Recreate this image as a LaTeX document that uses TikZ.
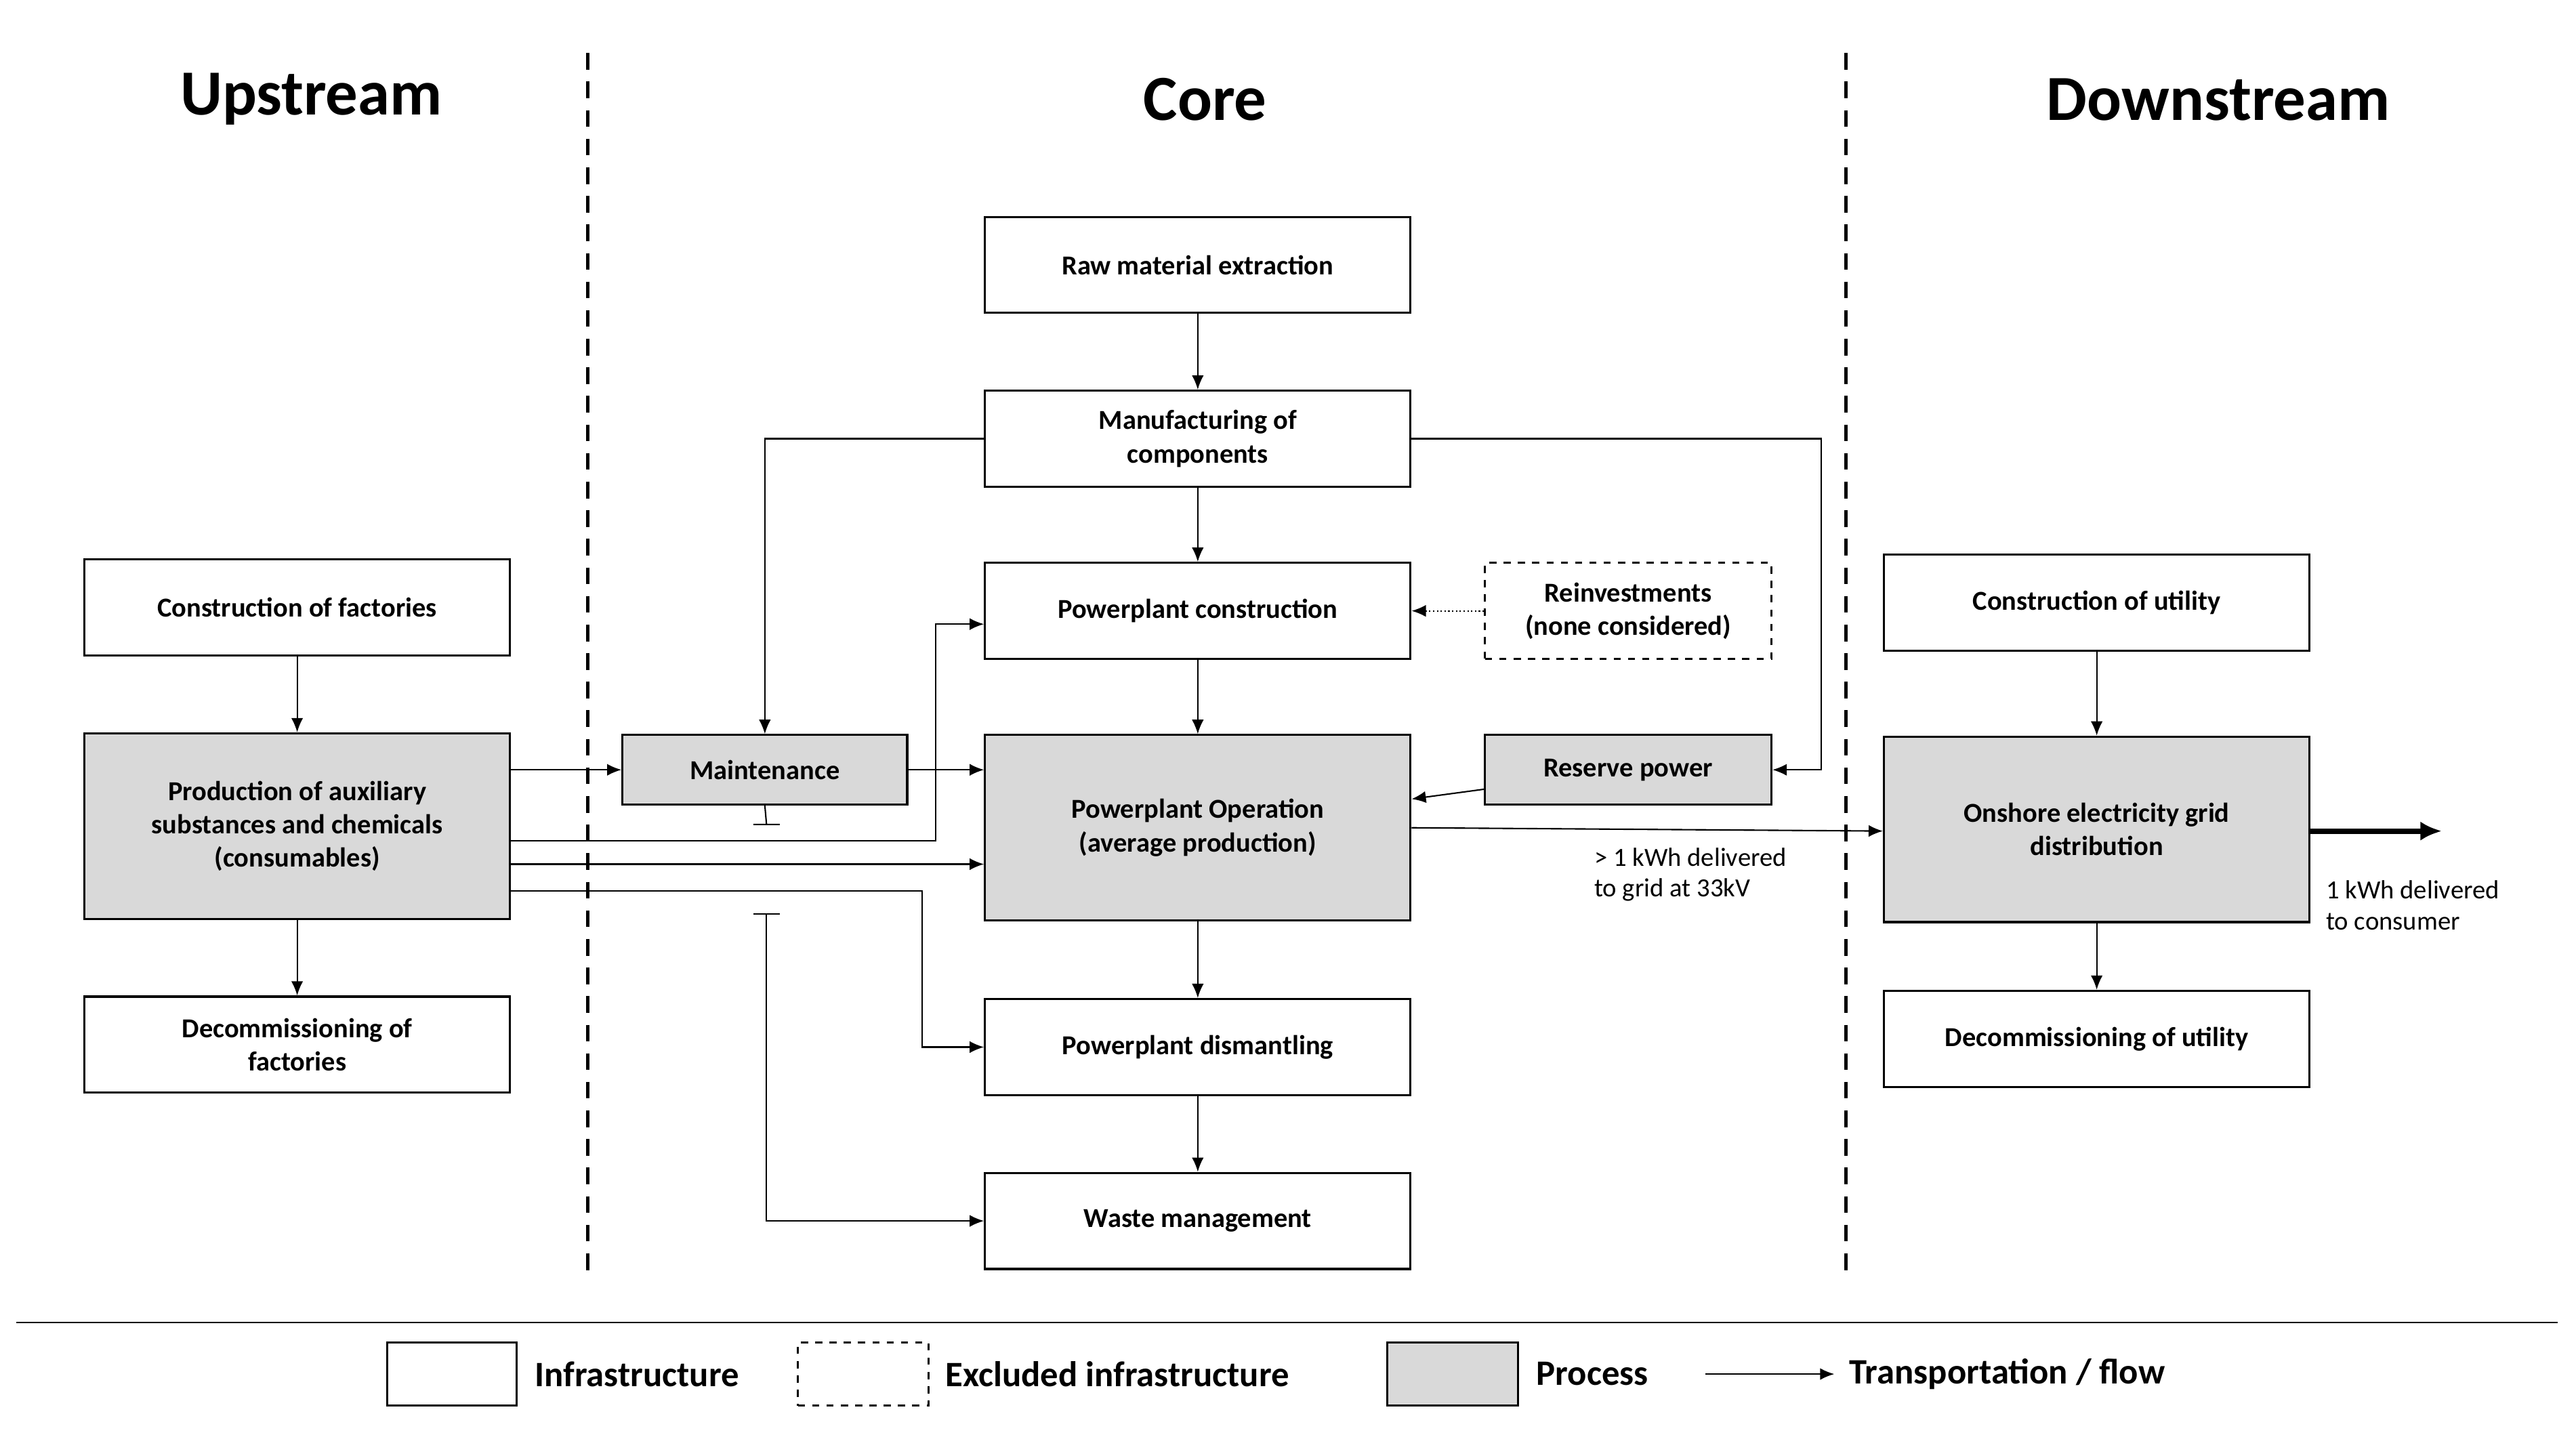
\documentclass[tikz,border=0pt]{standalone}
\usepackage{fontspec}
\setmainfont{Carlito}
\usetikzlibrary{arrows.meta}
\begin{document}
\begin{tikzpicture}[x=0.02443cm,y=-0.02443cm,
  box/.style={draw,line width=0.9pt,minimum width=257*0.02443cm,minimum height=58*0.02443cm,font=\bfseries\fontsize{11.5}{14}\selectfont,align=center,inner sep=2pt},
  proc/.style={box,fill=gray!30},
  ln/.style={line width=0.6pt},
  ar/.style={ln,-{Latex[length=6pt,width=5pt]}},
  ttl/.style={font=\bfseries\fontsize{27}{30}\selectfont},
  lab/.style={font=\fontsize{11}{13}\selectfont,align=left,anchor=north west}]
\useasboundingbox (0,0) rectangle (1556,868);
\node[ttl] at (188,60) {Upstream};
\node[ttl] at (728,60) {Core};
\node[ttl] at (1340,60) {Downstream};
\draw[line width=1.3pt,dash pattern=on 7pt off 5pt] (355,32) -- (355,773);
\draw[line width=1.3pt,dash pattern=on 7pt off 5pt] (1115,32) -- (1115,773);
% core
\node[box] (raw) at (723.5,160) {Raw material extraction};
\node[box] (man) at (723.5,265) {Manufacturing of\\components};
\node[box] (ppc) at (723.5,369) {Powerplant construction};
\node[box,dashed,minimum width=173*0.02443cm] (rei) at (983.5,369) {Reinvestments\\(none considered)};
\node[proc,minimum height=112*0.02443cm] (op) at (723.5,500) {Powerplant Operation\\(average production)};
\node[proc,minimum width=173*0.02443cm,minimum height=42*0.02443cm] (res) at (983.5,465) {Reserve power};
\node[proc,minimum width=172*0.02443cm,minimum height=42*0.02443cm] (mai) at (462,465) {Maintenance};
\node[box] (dis) at (723.5,632.5) {Powerplant dismantling};
\node[box] (was) at (723.5,737.5) {Waste management};
% upstream
\node[box] (cf) at (179.5,367) {Construction of factories};
\node[proc,minimum height=112*0.02443cm] (pa) at (179.5,499) {Production of auxiliary\\substances and chemicals\\(consumables)};
\node[box] (df) at (179.5,631) {Decommissioning of\\factories};
% downstream
\node[box] (cu) at (1266.5,364) {Construction of utility};
\node[proc,minimum height=112*0.02443cm] (og) at (1266.5,501) {Onshore electricity grid\\distribution};
\node[box] (du) at (1266.5,627.5) {Decommissioning of utility};
% arrows
\draw[ar] (raw) -- (man);
\draw[ar] (man) -- (ppc);
\draw[ar] (ppc) -- (op);
\draw[ar] (op) -- (dis);
\draw[ar] (dis) -- (was);
\draw[ar] (cf) -- (pa);
\draw[ar] (pa) -- (df);
\draw[ar] (cu) -- (og);
\draw[ar] (og) -- (du);
\draw[ar] (man.west |- 0,265) -| (mai.north);
\draw[ar] (man.east |- 0,265) -- (1100,265) |- (res.east);
\draw[ln,densely dotted,-{Latex[length=6pt,width=5pt]}] (rei) -- (ppc);
\draw[ar] (res) -- (op);
\draw[ar] (mai) -- (op.west |- mai);
\draw[ar] (pa.east |- 0,465) -- (mai.west);
\draw[ar] (pa.east |- 0,508) -- (565,508) |- (ppc.west |- 0,377);
\draw[ar] (pa.east |- 0,522) -- (op.west |- 0,522);
\draw[ar] (pa.east |- 0,538) -- (557,538) |- (dis.west);
\coordinate (t1) at (463,498);
\coordinate (t2) at (463,552);
\draw[ln] (mai.south) -- (t1) ++(-8,0) -- ++(16,0);
\draw[ln] (455,552) -- (471,552);
\draw[ar] (t2) |- (was.west);
\draw[ar] (op.east |- 0,500) -- (og.west |- 0,502);
\node[lab] at (958,507) {> 1 kWh delivered\\to grid at 33kV};
\draw[line width=2.2pt,-{Latex[length=9pt,width=8pt]}] (og.east |- 0,502) -- (1475,502);
\node[lab] at (1400,527) {1 kWh delivered\\to consumer};
% legend
\draw[line width=0.6pt] (10,799) -- (1545,799);
\node[draw,line width=0.9pt,minimum width=78*0.02443cm,minimum height=38*0.02443cm] (l1) at (273,830) {};
\node[anchor=west,font=\bfseries\fontsize{15}{18}\selectfont] (t1l) at (318,830) {Infrastructure};
\node[draw,dashed,line width=0.9pt,minimum width=79*0.02443cm,minimum height=38*0.02443cm] (l2) at (521.5,830) {};
\node[anchor=west,font=\bfseries\fontsize{15}{18}\selectfont] at (566,830) {Excluded infrastructure};
\node[draw,fill=gray!30,line width=0.9pt,minimum width=79*0.02443cm,minimum height=38*0.02443cm] (l3) at (877.5,830) {};
\node[anchor=west,font=\bfseries\fontsize{15}{18}\selectfont] at (923,830) {Process};
\coordinate (a1) at (1030,830);
\coordinate (a2) at (1108,830);
\draw[ar] (a1) -- (a2);
\node[anchor=west,font=\bfseries\fontsize{15}{18}\selectfont] at (1112,830) {Transportation / flow};
\end{tikzpicture}
\end{document}
